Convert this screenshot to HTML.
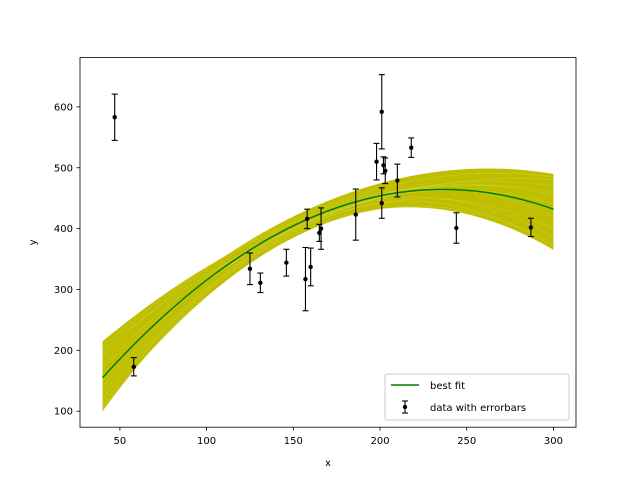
<!DOCTYPE html>
<html><head><meta charset="utf-8"><style>
body{margin:0;background:#fff;font-family:"Liberation Sans","DejaVu Sans",sans-serif}
svg text{font-family:"DejaVu Sans","Liberation Sans",sans-serif;font-size:10px;fill:#000}
</style></head><body>
<svg id="c" width="640" height="480" xmlns="http://www.w3.org/2000/svg"></svg>
<script>
const xs=[201,244,47,287,203,58,210,202,198,158,165,201,157,131,166,160,186,125,218,146];
const ys=[592,401,583,402,495,173,479,504,510,416,393,442,317,311,400,337,423,334,533,344];
const sy=[61,25,38,15,21,15,27,14,30,16,14,25,52,16,34,31,42,26,16,22];
const fitCoef=[-0.00803,3.795,16.05];
const sampleY40=[215,100,190,120,160,140,200,110,175,130,205,105,150,170];
const sampleY150=[410,395,420,390,400,410,400,400,405,395,415,385,405,398];
const sampleY300=[470,370,490,365,440,420,480,385,455,400,485,375,430,460];
const xTicks=[50,100,150,200,250,300];
const yTicks=[100,200,300,400,500,600];
const L=80,R=576,T=57.6,B=427.2,x0=27,x1=313,y0=73.7,y1=681;
const X=v=>L+(v-x0)/(x1-x0)*(R-L), Y=v=>B-(v-y0)/(y1-y0)*(B-T);
const svg=document.getElementById('c');const NS='http://www.w3.org/2000/svg';
function el(t,a,p){const e=document.createElementNS(NS,t);for(const k in a)e.setAttribute(k,a[k]);(p||svg).appendChild(e);return e;}
function lag(a,b,c,x){const p=[40,150,300],v=[a,b,c];let s=0;for(let i=0;i<3;i++){let t=v[i];for(let j=0;j<3;j++)if(j!=i)t*=(x-p[j])/(p[i]-p[j]);s+=t;}return s;}
const g=el('g',{});
let up=[],lo=[];
for(let x=40;x<=300;x+=2){let vals=sampleY40.map((a,i)=>lag(a,sampleY150[i],sampleY300[i],x));up.push([x,Math.max(...vals)]);lo.push([x,Math.min(...vals)]);}
const band=el('polygon',{points:up.concat(lo.reverse()).map(p=>X(p[0])+','+Y(p[1])).join(' '),fill:'#bfbf00'},g);

sampleY40.forEach((a,i)=>{let pts=[];for(let x=40;x<=300;x+=2)pts.push(X(x)+','+Y(lag(a,sampleY150[i],sampleY300[i],x)));
const l=el('polyline',{points:pts.join(' '),fill:'none',stroke:'#ffffff','stroke-width':0.3,'stroke-opacity':0.35},g);
});
let fp=[];for(let x=40;x<=300;x+=2)fp.push(X(x)+','+Y(fitCoef[0]*x*x+fitCoef[1]*x+fitCoef[2]));
const fl=el('polyline',{points:fp.join(' '),fill:'none',stroke:'green','stroke-width':1.5},g);

xs.forEach((x,i)=>{const pg=el('g',{},g);

const cx=X(x),a=Y(ys[i]+sy[i]),b=Y(ys[i]-sy[i]);
el('line',{x1:cx,x2:cx,y1:a,y2:b,stroke:'#000','stroke-width':1.1},pg);
el('line',{x1:cx-3,x2:cx+3,y1:a,y2:a,stroke:'#000','stroke-width':1.1},pg);
el('line',{x1:cx-3,x2:cx+3,y1:b,y2:b,stroke:'#000','stroke-width':1.1},pg);
el('circle',{cx:cx,cy:Y(ys[i]),r:2.2,fill:'#000'},pg);});
const fr=el('rect',{x:L,y:T,width:R-L,height:B-T,fill:'none',stroke:'#000','stroke-width':0.8});

xTicks.forEach(v=>{el('line',{x1:X(v),x2:X(v),y1:B,y2:B+3.5,stroke:'#000','stroke-width':0.8});
const t=el('text',{x:X(v),y:B+17,'text-anchor':'middle'});t.textContent=v;
});
yTicks.forEach(v=>{el('line',{x1:L-3.5,x2:L,y1:Y(v),y2:Y(v),stroke:'#000','stroke-width':0.8});
const t=el('text',{x:L-7,y:Y(v)+3.5,'text-anchor':'end'});t.textContent=v;
});
const xt=el('text',{x:(L+R)/2,y:466,'text-anchor':'middle'});xt.textContent='x';

const yt=el('text',{x:0,y:0,'text-anchor':'middle',transform:`translate(36,${(T+B)/2}) rotate(-90)`});yt.textContent='y';

const lg=el('g',{});
el('rect',{x:385,y:374,width:184,height:46,rx:2,fill:'#fff','fill-opacity':0.8,stroke:'#ccc'},lg);
el('line',{x1:391,x2:419,y1:385,y2:385,stroke:'green','stroke-width':1.5},lg);
const t1=el('text',{x:430,y:389},lg);t1.textContent='best fit';

el('line',{x1:405,x2:405,y1:401,y2:413,stroke:'#000','stroke-width':1.1},lg);
el('line',{x1:402,x2:408,y1:401,y2:401,stroke:'#000','stroke-width':1.1},lg);
el('line',{x1:402,x2:408,y1:413,y2:413,stroke:'#000','stroke-width':1.1},lg);
el('circle',{cx:405,cy:407,r:2.2,fill:'#000'},lg);
const t2=el('text',{x:430,y:411},lg);t2.textContent='data with errorbars';

</script>
</body></html>
